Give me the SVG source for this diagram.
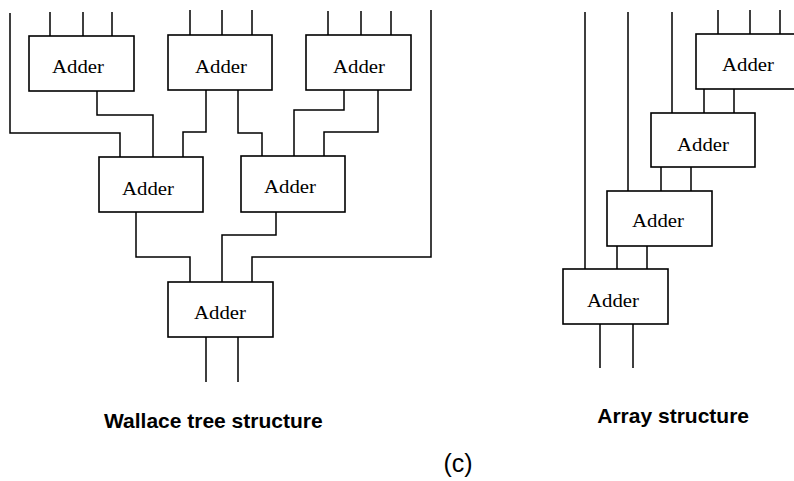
<svg xmlns="http://www.w3.org/2000/svg" width="794" height="481" viewBox="0 0 794 481">
  <style>
    .box { fill: #fff; stroke: #000; stroke-width: 1.6; }
    .wire { fill: none; stroke: #000; stroke-width: 1.5; }
    .lbl { font-family: "Liberation Serif", "Times New Roman", serif; font-size: 19px; fill: #000; text-anchor: middle; }
    .cap { font-family: "Liberation Sans", Arial, sans-serif; font-size: 21px; font-weight: bold; fill: #000; }
    .fig { font-family: "Liberation Sans", Arial, sans-serif; font-size: 25px; fill: #000; text-anchor: middle; }
  </style>
  <rect width="794" height="481" fill="#fff"/>

  <!-- wiring -->
  <g id="connectors" class="wire">
    <!-- Wallace tree: top-level inputs -->
    <path d="M50 12V36M83 12V36M112 12V36"/>
    <path d="M190 10V35M222 10V35M252 10V35"/>
    <path d="M328 11V35M361 11V35M391 11V35"/>
    <!-- pass-through operands -->
    <path d="M10 13V133H120V157"/>
    <path d="M431 10V257H252V282"/>
    <!-- first level to second level -->
    <path d="M97 91V115H153V157"/>
    <path d="M206 90V132H183V157"/>
    <path d="M238 90V133H262V156"/>
    <path d="M344 90V110H294V156"/>
    <path d="M378 90V132H324V156"/>
    <!-- second level to final adder -->
    <path d="M136 212V257H190V282"/>
    <path d="M276 212V235H222V282"/>
    <!-- final outputs -->
    <path d="M206 337V382M238 337V382"/>

    <!-- Array: operand lines -->
    <path d="M585 12V269M628 12V191M672 12V113"/>
    <path d="M718 10V34M750 10V34M780 10V34"/>
    <!-- chain between stages -->
    <path d="M704 89V113M734 89V113"/>
    <path d="M661 167V191M691 167V191"/>
    <path d="M617 246V269M647 246V269"/>
    <path d="M600 324V368M633 324V368"/>
  </g>

  <!-- Wallace tree adders -->
  <g id="w-adder-1"><rect class="box" x="29" y="36" width="105" height="55"/><text class="lbl" x="78" y="73" textLength="52" lengthAdjust="spacingAndGlyphs">Adder</text></g>
  <g id="w-adder-2"><rect class="box" x="168" y="35" width="104" height="55"/><text class="lbl" x="221" y="73" textLength="52" lengthAdjust="spacingAndGlyphs">Adder</text></g>
  <g id="w-adder-3"><rect class="box" x="306" y="35" width="105" height="55"/><text class="lbl" x="359" y="73" textLength="52" lengthAdjust="spacingAndGlyphs">Adder</text></g>
  <g id="w-adder-4"><rect class="box" x="99" y="157" width="104" height="55"/><text class="lbl" x="148" y="195" textLength="52" lengthAdjust="spacingAndGlyphs">Adder</text></g>
  <g id="w-adder-5"><rect class="box" x="241" y="156" width="104" height="56"/><text class="lbl" x="290" y="193" textLength="52" lengthAdjust="spacingAndGlyphs">Adder</text></g>
  <g id="w-adder-6"><rect class="box" x="168" y="282" width="105" height="55"/><text class="lbl" x="220" y="319" textLength="52" lengthAdjust="spacingAndGlyphs">Adder</text></g>

  <!-- Array adders -->
  <g id="a-adder-1"><rect class="box" x="696" y="34" width="105" height="55"/><text class="lbl" x="748" y="71" textLength="52" lengthAdjust="spacingAndGlyphs">Adder</text></g>
  <g id="a-adder-2"><rect class="box" x="651" y="113" width="104" height="54"/><text class="lbl" x="703" y="151" textLength="52" lengthAdjust="spacingAndGlyphs">Adder</text></g>
  <g id="a-adder-3"><rect class="box" x="607" y="191" width="105" height="55"/><text class="lbl" x="658" y="227" textLength="52" lengthAdjust="spacingAndGlyphs">Adder</text></g>
  <g id="a-adder-4"><rect class="box" x="563" y="269" width="105" height="55"/><text class="lbl" x="613" y="307" textLength="52" lengthAdjust="spacingAndGlyphs">Adder</text></g>

  <!-- captions -->
  <g id="captions">
    <text class="cap" x="104" y="428">Wallace tree structure</text>
    <text class="cap" x="749" y="423" text-anchor="end">Array structure</text>
    <text class="fig" x="458" y="472">(c)</text>
  </g>
</svg>
